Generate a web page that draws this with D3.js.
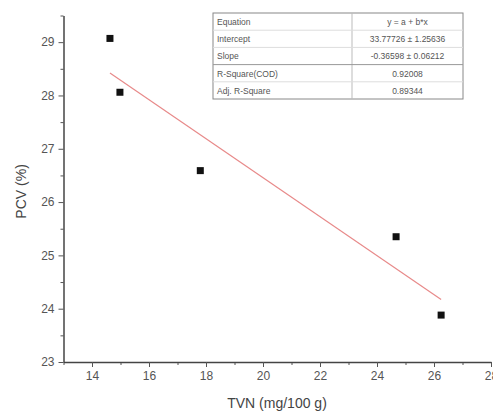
<!DOCTYPE html>
<html>
<head>
<meta charset="utf-8">
<script src="https://cdn.jsdelivr.net/npm/d3@7"></script>
<style>
  body { margin: 0; background: #fff; }
  text { font-family: "Liberation Sans", Arial, sans-serif; }
</style>
</head>
<body>
<div id="chart"></div>
<script>
const width = 493, height = 419;

// data
const tvn = [14.63, 14.98, 17.8, 24.67, 26.25];
const pcv = [29.07, 28.06, 26.59, 25.35, 23.88];
const intercept = 33.77726, slope = -0.36598;
const tableLabels = ["Equation", "Intercept", "Slope", "R-Square(COD)", "Adj. R-Square"];
const tableValues = ["y = a + b*x", "33.77726 \u00b1 1.25636", "-0.36598 \u00b1 0.06212", "0.92008", "0.89344"];
const xTicks = [14, 16, 18, 20, 22, 24, 26, 28];
const yTicks = [23, 24, 25, 26, 27, 28, 29];

const svg = d3.select("#chart").append("svg")
    .attr("width", width)
    .attr("height", height);

const x = d3.scaleLinear().domain([13, 28]).range([63.5, 491]);
const y = d3.scaleLinear().domain([23, 29.5]).range([362, 15.5]);

// minor ticks
const xMinor = d3.range(13, 29, 1).filter(v => v % 2 != 0);
const yMinor = d3.range(23.5, 29.6, 1);

svg.append("g")
    .attr("transform", `translate(0,${y(23)})`)
    .call(d3.axisBottom(x).tickValues(xMinor).tickSize(3).tickFormat(""))
    .call(g => g.select(".domain").remove())
    .selectAll("line").attr("stroke", "#555");
svg.append("g")
    .attr("transform", `translate(${x(13)},0)`)
    .call(d3.axisLeft(y).tickValues(yMinor).tickSize(3).tickFormat(""))
    .call(g => g.select(".domain").remove())
    .selectAll("line").attr("stroke", "#555");

const xAxis = svg.append("g")
    .attr("transform", `translate(0,${y(23)})`)
    .call(d3.axisBottom(x).tickValues(xTicks).tickSize(5).tickSizeOuter(0).tickPadding(4).tickFormat(d3.format("d")));
const yAxis = svg.append("g")
    .attr("transform", `translate(${x(13)},0)`)
    .call(d3.axisLeft(y).tickValues(yTicks).tickSize(5).tickSizeOuter(0).tickPadding(4).tickFormat(d3.format("d")));

[xAxis, yAxis].forEach(a => {
    a.select(".domain").attr("stroke", "#444").attr("stroke-width", 1.5);
    a.selectAll(".tick line").attr("stroke", "#555");
    a.selectAll("text")
        .attr("font-size", "12px")
        .attr("fill", "#555")
        .style("font-family", "Liberation Sans, Arial, sans-serif");
});

// axis titles
svg.append("text")
    .attr("x", 277)
    .attr("y", 408)
    .attr("text-anchor", "middle")
    .attr("font-size", "14px")
    .attr("fill", "#444")
    .text("TVN (mg/100 g)");
svg.append("text")
    .attr("transform", `translate(26,${y(26.2)}) rotate(-90)`)
    .attr("text-anchor", "middle")
    .attr("font-size", "14px")
    .attr("fill", "#444")
    .text("PCV (%)");

// fit line
const x0 = d3.min(tvn), x1 = d3.max(tvn);
svg.append("line")
    .attr("x1", x(x0)).attr("y1", y(intercept + slope * x0))
    .attr("x2", x(x1)).attr("y2", y(intercept + slope * x1))
    .attr("stroke", "#e88a8a")
    .attr("stroke-width", 1.2);

// points
svg.selectAll(".pt")
    .data(tvn.map((d, i) => ({ x: d, y: pcv[i] })))
    .enter().append("rect")
    .attr("class", "pt")
    .attr("x", d => x(d.x) - 3.5)
    .attr("y", d => y(d.y) - 3.5)
    .attr("width", 7)
    .attr("height", 7)
    .attr("fill", "#111");

// stats table
const tx = 213, ty = 13, tw = 250, rowH = 17.2, colX = 352;
const table = svg.append("g");
table.append("rect")
    .attr("x", tx).attr("y", ty)
    .attr("width", tw).attr("height", rowH * tableLabels.length)
    .attr("fill", "#fff")
    .attr("stroke", "#888");
table.append("line")
    .attr("x1", colX).attr("x2", colX)
    .attr("y1", ty).attr("y2", ty + rowH * tableLabels.length)
    .attr("stroke", "#bbb");
tableLabels.forEach((lab, i) => {
    if (i > 0) {
        table.append("line")
            .attr("x1", tx).attr("x2", tx + tw)
            .attr("y1", ty + rowH * i).attr("y2", ty + rowH * i)
            .attr("stroke", i == 3 ? "#999" : "#ddd");
    }
    table.append("text")
        .attr("x", tx + 4)
        .attr("y", ty + rowH * i + 12)
        .attr("font-size", "8.5px")
        .attr("fill", "#555")
        .text(lab);
    table.append("text")
        .attr("x", (colX + tx + tw) / 2)
        .attr("y", ty + rowH * i + 12)
        .attr("text-anchor", "middle")
        .attr("font-size", "8.5px")
        .attr("fill", "#555")
        .text(tableValues[i]);
});
</script>
</body>
</html>
